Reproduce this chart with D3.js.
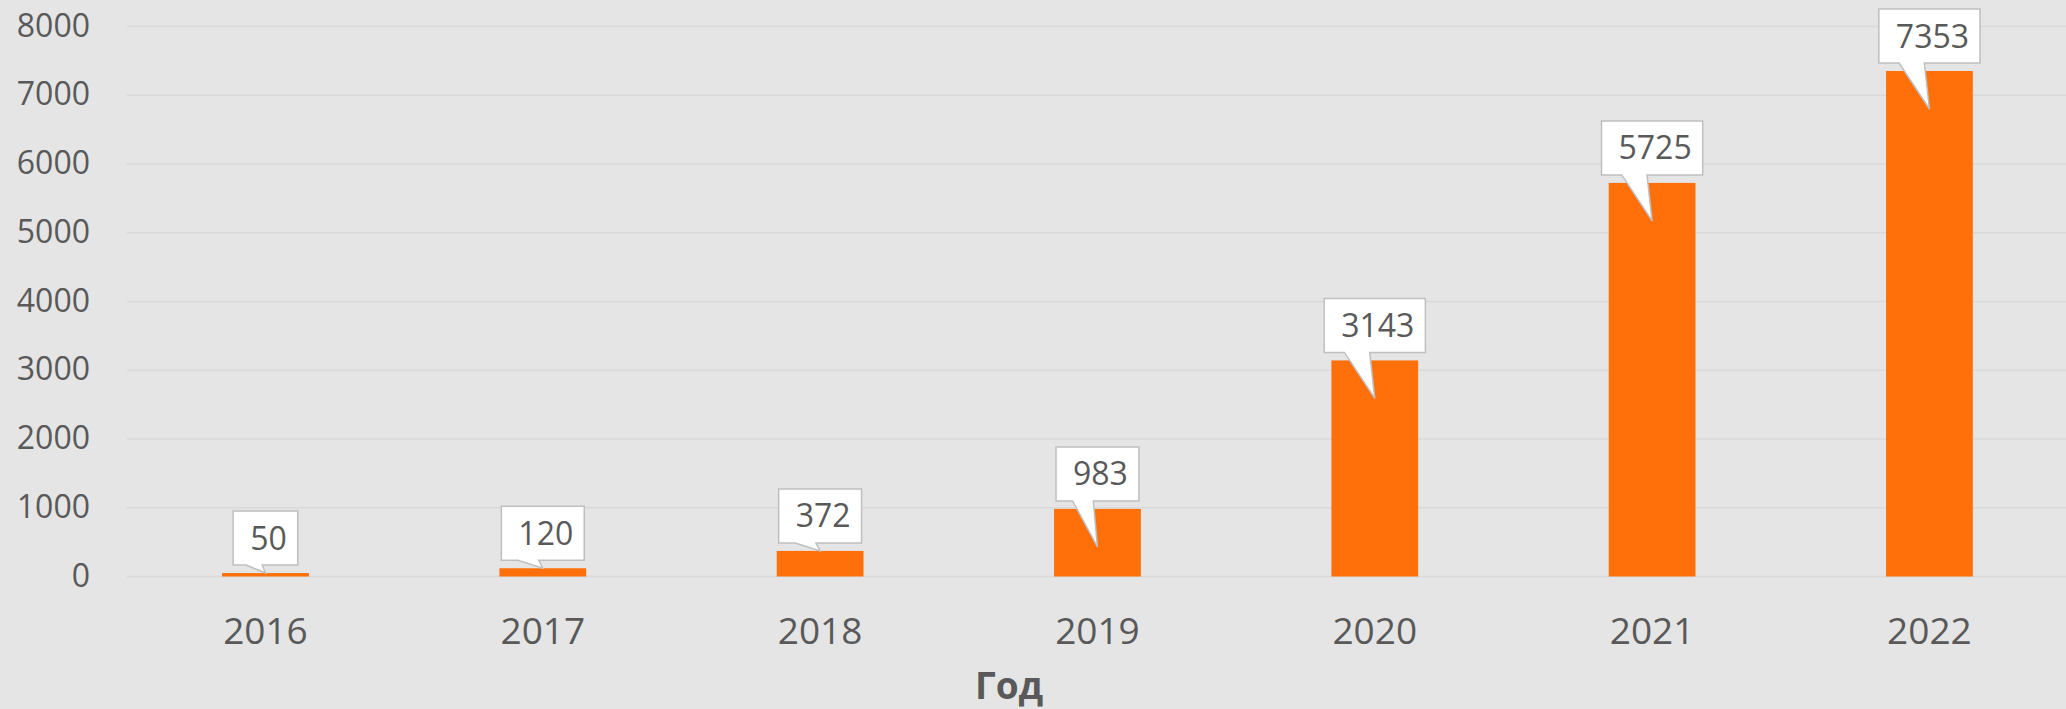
<!DOCTYPE html>
<html>
<head>
<meta charset="utf-8">
<script src="https://cdn.jsdelivr.net/npm/d3@7/dist/d3.min.js"></script>
<style>
  html, body { margin: 0; padding: 0; background: #e5e5e5; }
  svg { display: block; }
  text { font-family: "Open Sans", "Noto Sans", sans-serif; fill: #595959; }
</style>
</head>
<body>
<svg id="chart" width="2066" height="709"></svg>
<script>
const categories = ["2016", "2017", "2018", "2019", "2020", "2021", "2022"];
const values = [50, 120, 372, 983, 3143, 5725, 7353];
const yTicks = [0, 1000, 2000, 3000, 4000, 5000, 6000, 7000, 8000];
const axisTitle = "Год";

const W = 2066, H = 709;
const svg = d3.select("#chart");
svg.append("rect").attr("width", W).attr("height", H).attr("fill", "#e5e5e5");

const x = d3.scaleBand().domain(categories).range([126.8, 2068.1])
  .paddingInner(0.687).paddingOuter(0.3435);
const y = d3.scaleLinear().domain([0, 8000]).range([576.5, 26.5]);

// gridlines
svg.append("g").selectAll("line").data(yTicks).join("line")
  .attr("x1", 127).attr("x2", W)
  .attr("y1", d => y(d)).attr("y2", d => y(d))
  .attr("stroke", "#d9d9d9").attr("stroke-width", 1.5);

// y axis labels
const yAxis = d3.axisLeft(y).tickValues(yTicks).tickSize(0).tickPadding(0).tickFormat(d3.format("d"));
const gy = svg.append("g").attr("transform", "translate(90,0)").call(yAxis);
gy.select(".domain").remove();
gy.selectAll("text").attr("font-size", 32).attr("fill", "#595959")
  .attr("font-family", "Open Sans").attr("dy", "0.3em");

// x axis labels
const xAxis = d3.axisBottom(x).tickSize(0).tickPadding(0);
const gx = svg.append("g").attr("transform", "translate(0,644)").call(xAxis);
gx.select(".domain").remove();
gx.selectAll("text").attr("font-size", 37).attr("fill", "#595959")
  .attr("font-family", "Open Sans").attr("dy", 0);

// bars
svg.append("g").selectAll("rect").data(values).join("rect")
  .attr("x", (d, i) => x(categories[i]))
  .attr("width", x.bandwidth())
  .attr("y", d => y(d))
  .attr("height", d => y(0) - y(d))
  .attr("fill", "#ff700a");

// callouts
const g = svg.append("g");
values.forEach((v, i) => {
  const cx = x(categories[i]) + x.bandwidth() / 2;
  const top = y(v);
  const grp = g.append("g");
  const txt = grp.append("text").text(String(v))
    .attr("font-size", 32).attr("fill", "#595959");
  const tw = txt.node().getComputedTextLength();
  const bw = tw + 28, bh = 54;
  const bx = cx - bw / 2, by2 = top - 8, by = by2 - bh;
  const tipY = Math.max(top, Math.min(top + 38, y(0) - 29));
  const b1 = bx + bw * 0.2, b2 = bx + bw * 0.45;
  const path = `M${bx},${by} L${bx + bw},${by} L${bx + bw},${by2} L${b2},${by2} L${cx},${tipY} L${b1},${by2} L${bx},${by2} Z`;
  grp.insert("path", "text").attr("d", path)
    .attr("fill", "#ffffff").attr("stroke", "#bfbfbf").attr("stroke-width", 1.5)
    .attr("stroke-linejoin", "miter");
  txt.attr("x", bx + 17).attr("y", by + bh / 2).attr("dy", "0.36em");
});

// axis title
svg.append("text").text(axisTitle)
  .attr("x", 1009).attr("y", 699)
  .attr("text-anchor", "middle")
  .attr("font-size", 37).attr("font-weight", "bold").attr("fill", "#595959");
</script>
</body>
</html>
